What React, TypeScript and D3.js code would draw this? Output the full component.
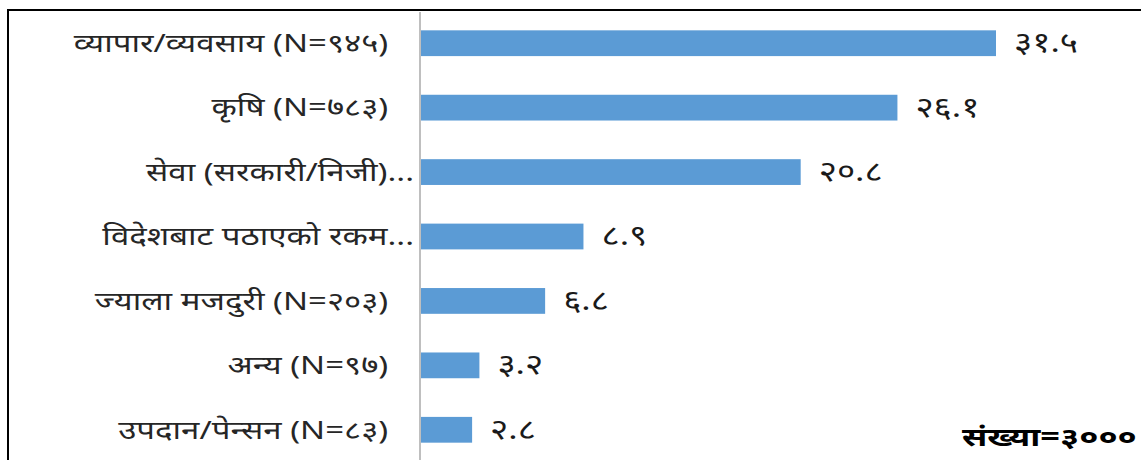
import { useEffect, useRef } from 'react';
import * as d3 from 'd3';

// categories (top to bottom) and percentage values
const categories = [
  'व्यापार/व्यवसाय (N=९४५)   ',
  'कृषि (N=७८३)   ',
  'सेवा (सरकारी/निजी)...',
  'विदेशबाट पठाएको रकम...',
  'ज्याला मजदुरी (N=२०३)   ',
  'अन्य (N=९७)   ',
  'उपदान/पेन्सन (N=८३)   ',
];
const values = [31.5, 26.1, 20.8, 8.9, 6.8, 3.2, 2.8];
const totalNote = 'संख्या=३०००';

const devDigits = ['०', '१', '२', '३', '४', '५', '६', '७', '८', '९'];
const toDevanagari = (s: string) => s.replace(/[0-9]/g, d => devDigits[+d]);

const FONT = '"Noto Sans", "Noto Sans Devanagari", "Lohit Devanagari", sans-serif';
// the original uses a much wider Devanagari face; stretch horizontally to match
const STRETCH = 1.32;

export default function App() {
  const svgRef = useRef<SVGSVGElement>(null);

  useEffect(() => {
    if (!svgRef.current) return;
    const svg = d3.select(svgRef.current);
    svg.selectAll('*').remove();

    const W = 1141;
    const H = 460;
    const plot = { left: 421, top: 11, bottom: 462 };

    const x = d3.scaleLinear().domain([0, 31.5]).range([plot.left, 996]);
    const y = d3
      .scaleBand<string>()
      .domain(categories)
      .range([plot.top, plot.bottom])
      .paddingInner(0.6)
      .paddingOuter(0.3);

    // white background + frame
    svg.append('rect').attr('width', W).attr('height', H).attr('fill', '#fff');
    svg
      .append('rect')
      .attr('x', 8)
      .attr('y', 10)
      .attr('width', W + 20)
      .attr('height', H + 20)
      .attr('fill', 'none')
      .attr('stroke', '#000')
      .attr('stroke-width', 2);

    // bars
    svg
      .selectAll('rect.bar')
      .data(values)
      .enter()
      .append('rect')
      .attr('class', 'bar')
      .attr('x', x(0))
      .attr('y', (_, i) => y(categories[i])!)
      .attr('width', d => x(d) - x(0))
      .attr('height', y.bandwidth())
      .attr('fill', '#5b9bd5');

    // vertical category axis
    svg
      .append('line')
      .attr('x1', 420)
      .attr('x2', 420)
      .attr('y1', 12)
      .attr('y2', H)
      .attr('stroke', '#bfbfbf')
      .attr('stroke-width', 2);

    // category labels
    svg
      .selectAll('g.cat')
      .data(categories)
      .enter()
      .append('g')
      .attr('class', 'cat')
      .attr('transform', d => `translate(414,${y(d)! + y.bandwidth() / 2}) scale(${STRETCH},1)`)
      .append('text')
      .attr('dy', '0.35em')
      .attr('text-anchor', 'end')
      .style('white-space', 'pre')
      .attr('font-family', FONT)
      .attr('font-size', 25)
      .attr('fill', '#262626')
      .text(d => d);

    // value labels
    svg
      .selectAll('g.val')
      .data(values)
      .enter()
      .append('g')
      .attr('class', 'val')
      .attr(
        'transform',
        (d, i) => `translate(${x(d) + 18},${y(categories[i])! + y.bandwidth() / 2}) scale(1.25,1)`
      )
      .append('text')
      .attr('dy', '0.32em')
      .attr('font-family', FONT)
      .attr('font-size', 28)
      .attr('fill', '#1a1a1a')
      .text(d => toDevanagari(d.toFixed(1)));

    // sample size note
    svg
      .append('g')
      .attr('transform', 'translate(962,446) scale(1.32,1)')
      .append('text')
      .attr('font-family', FONT)
      .attr('font-size', 26)
      .attr('font-weight', 'bold')
      .attr('fill', '#000')
      .text(totalNote);
  }, []);

  return (
    <svg
      ref={svgRef}
      width={1141}
      height={460}
      style={{ position: 'absolute', left: 0, top: 0 }}
    />
  );
}
